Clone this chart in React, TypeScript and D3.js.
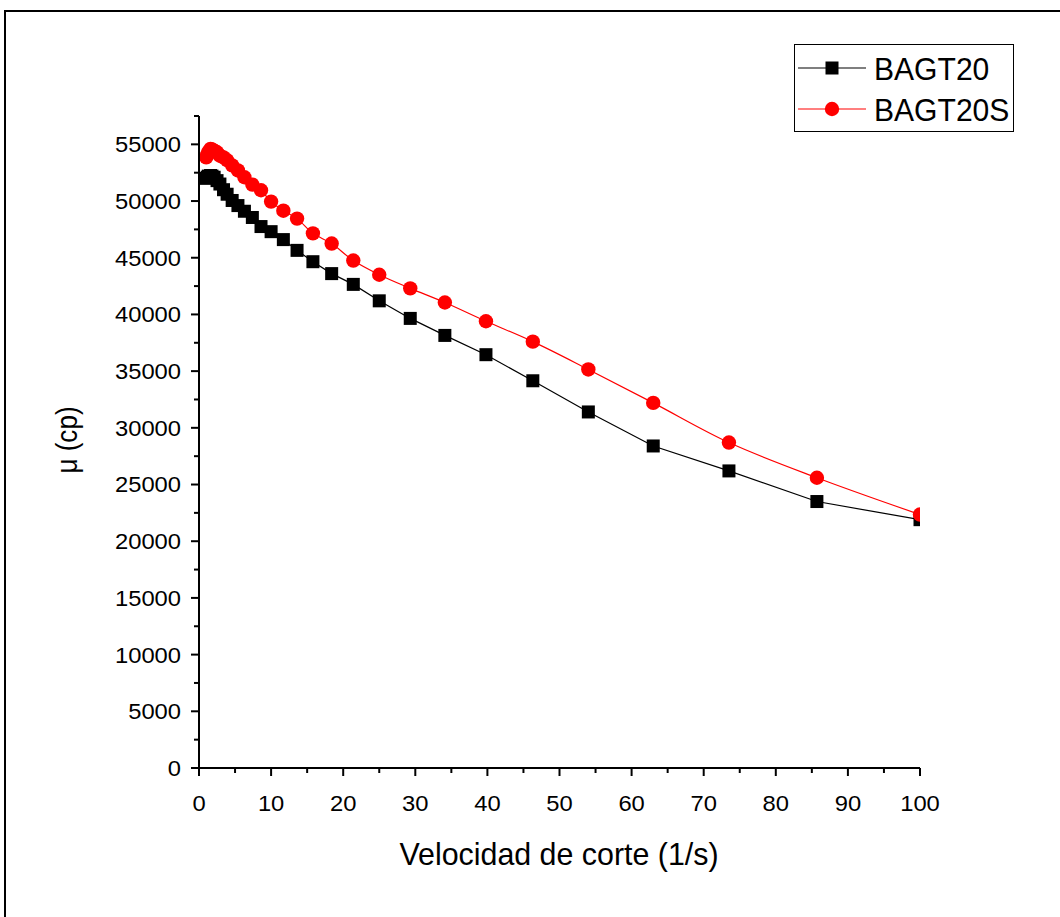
import React from "react";
import * as d3 from "d3";

const shearRate = [1.0, 1.15, 1.3, 1.6, 1.8, 2.1, 2.5, 2.9, 3.4, 3.9, 4.6, 5.4, 6.3, 7.4, 8.6, 10, 11.7, 13.6, 15.8, 18.4, 21.4, 25, 29.3, 34.1, 39.8, 46.3, 54, 63, 73.5, 85.7, 100];
const bagt20 = [52000, 52100, 52200, 52250, 52200, 52100, 51800, 51500, 51000, 50600, 50050, 49600, 49100, 48550, 47750, 47300, 46600, 45650, 44650, 43600, 42650, 41200, 39650, 38150, 36450, 34150, 31400, 28400, 26200, 23500, 21900];
const bagt20s = [53850, 54100, 54350, 54600, 54550, 54450, 54300, 54000, 53850, 53600, 53150, 52700, 52100, 51450, 50950, 49950, 49150, 48450, 47150, 46250, 44750, 43500, 42300, 41050, 39400, 37600, 35150, 32200, 28700, 25600, 22350];
const xTicks = [0, 10, 20, 30, 40, 50, 60, 70, 80, 90, 100];
const yTicks = [0, 5000, 10000, 15000, 20000, 25000, 30000, 35000, 40000, 45000, 50000, 55000];
const seriesNames = ["BAGT20", "BAGT20S"];

const W = 1060, H = 917;
const L = 199, R = 920, T = 116, B = 768;
const FONT = "Liberation Sans, Arial, sans-serif";

function SText(props: { x: number; y: number; size: number; anchor?: string; sx?: number; rotate?: number; children: React.ReactNode; dy?: string }) {
  const { x, y, size, anchor = "start", sx = 1, rotate = 0, children, dy } = props;
  return (
    <g transform={`translate(${x},${y}) rotate(${rotate}) scale(${sx},1)`}>
      <text x={0} y={0} dy={dy} textAnchor={anchor as any} fontFamily={FONT} fontSize={size} fill="#000">{children}</text>
    </g>
  );
}

export default function App() {
  const x = d3.scaleLinear().domain([0, 100]).range([L, R]);
  const y = d3.scaleLinear().domain([0, 57500]).range([B, T]);
  const blackPts = shearRate.map((v, i) => [x(v), y(bagt20[i])] as [number, number]);
  const redPts = shearRate.map((v, i) => [x(v), y(bagt20s[i])] as [number, number]);
  const lineLin = d3.line().curve(d3.curveLinear);
  const lineSm = d3.line().curve(d3.curveCatmullRom.alpha(0.5));
  const xMinor = d3.range(5, 100, 10);
  const yMinor = d3.range(2500, 57501, 5000);
  return (
    <svg width={W} height={H} style={{ display: "block", position: "absolute", left: 0, top: 0 }}>
      <rect x={0} y={0} width={W} height={H} fill="#fff" />
      <path d={`M5,${H} L5,11 L${W},11`} fill="none" stroke="#000" strokeWidth={2} />
      <defs>
        <clipPath id="plotclip">
          <rect x={L} y={T - 20} width={R - L} height={B - T + 20} />
        </clipPath>
      </defs>
      <g clipPath="url(#plotclip)">
        <path d={lineLin(blackPts) || ""} fill="none" stroke="#000" strokeWidth={1.2} />
        <path d={lineSm(redPts) || ""} fill="none" stroke="#f00" strokeWidth={1.2} />
        {blackPts.map((p, i) => (
          <rect key={"b" + i} x={p[0] - 6.5} y={p[1] - 6.5} width={13} height={13} fill="#000" />
        ))}
        {redPts.map((p, i) => (
          <circle key={"r" + i} cx={p[0]} cy={p[1]} r={7.2} fill="#f00" />
        ))}
      </g>
      {/* axes */}
      <line x1={L} x2={L} y1={T} y2={B + 1} stroke="#000" strokeWidth={2} />
      <line x1={L - 1} x2={R} y1={B} y2={B} stroke="#000" strokeWidth={2} />
      {yTicks.map((t) => (
        <g key={"yt" + t}>
          <line x1={L - 8} x2={L} y1={y(t)} y2={y(t)} stroke="#000" strokeWidth={2} />
          <SText x={L - 18} y={y(t)} dy="0.36em" anchor="end" size={22} sx={1.08}>{t}</SText>
        </g>
      ))}
      {yMinor.map((t) => (
        <line key={"ym" + t} x1={L - 5} x2={L} y1={y(t)} y2={y(t)} stroke="#000" strokeWidth={2} />
      ))}
      {xTicks.map((t) => (
        <g key={"xt" + t}>
          <line x1={x(t)} x2={x(t)} y1={B} y2={B + 8} stroke="#000" strokeWidth={2} />
          <SText x={x(t)} y={B + 43} anchor="middle" size={22} sx={1.08}>{t}</SText>
        </g>
      ))}
      {xMinor.map((t) => (
        <line key={"xm" + t} x1={x(t)} x2={x(t)} y1={B} y2={B + 5} stroke="#000" strokeWidth={2} />
      ))}
      <SText x={559} y={865} anchor="middle" size={31} sx={0.98}>Velocidad de corte (1/s)</SText>
      <SText x={77} y={440} anchor="middle" size={30} rotate={-90} sx={0.87}>μ (cp)</SText>
      {/* legend */}
      <rect x={794.5} y={44.5} width={219} height={87} fill="#fff" stroke="#000" strokeWidth={1} />
      <line x1={798} x2={866} y1={68} y2={68} stroke="#000" strokeWidth={1.2} />
      <rect x={832 - 6.5} y={68 - 6.5} width={13} height={13} fill="#000" />
      <SText x={874} y={68} dy="0.36em" size={32} sx={0.94}>{seriesNames[0]}</SText>
      <line x1={798} x2={866} y1={109} y2={109} stroke="#f00" strokeWidth={1.2} />
      <circle cx={832} cy={109} r={7.2} fill="#f00" />
      <SText x={874} y={109} dy="0.36em" size={32} sx={0.94}>{seriesNames[1]}</SText>
    </svg>
  );
}
